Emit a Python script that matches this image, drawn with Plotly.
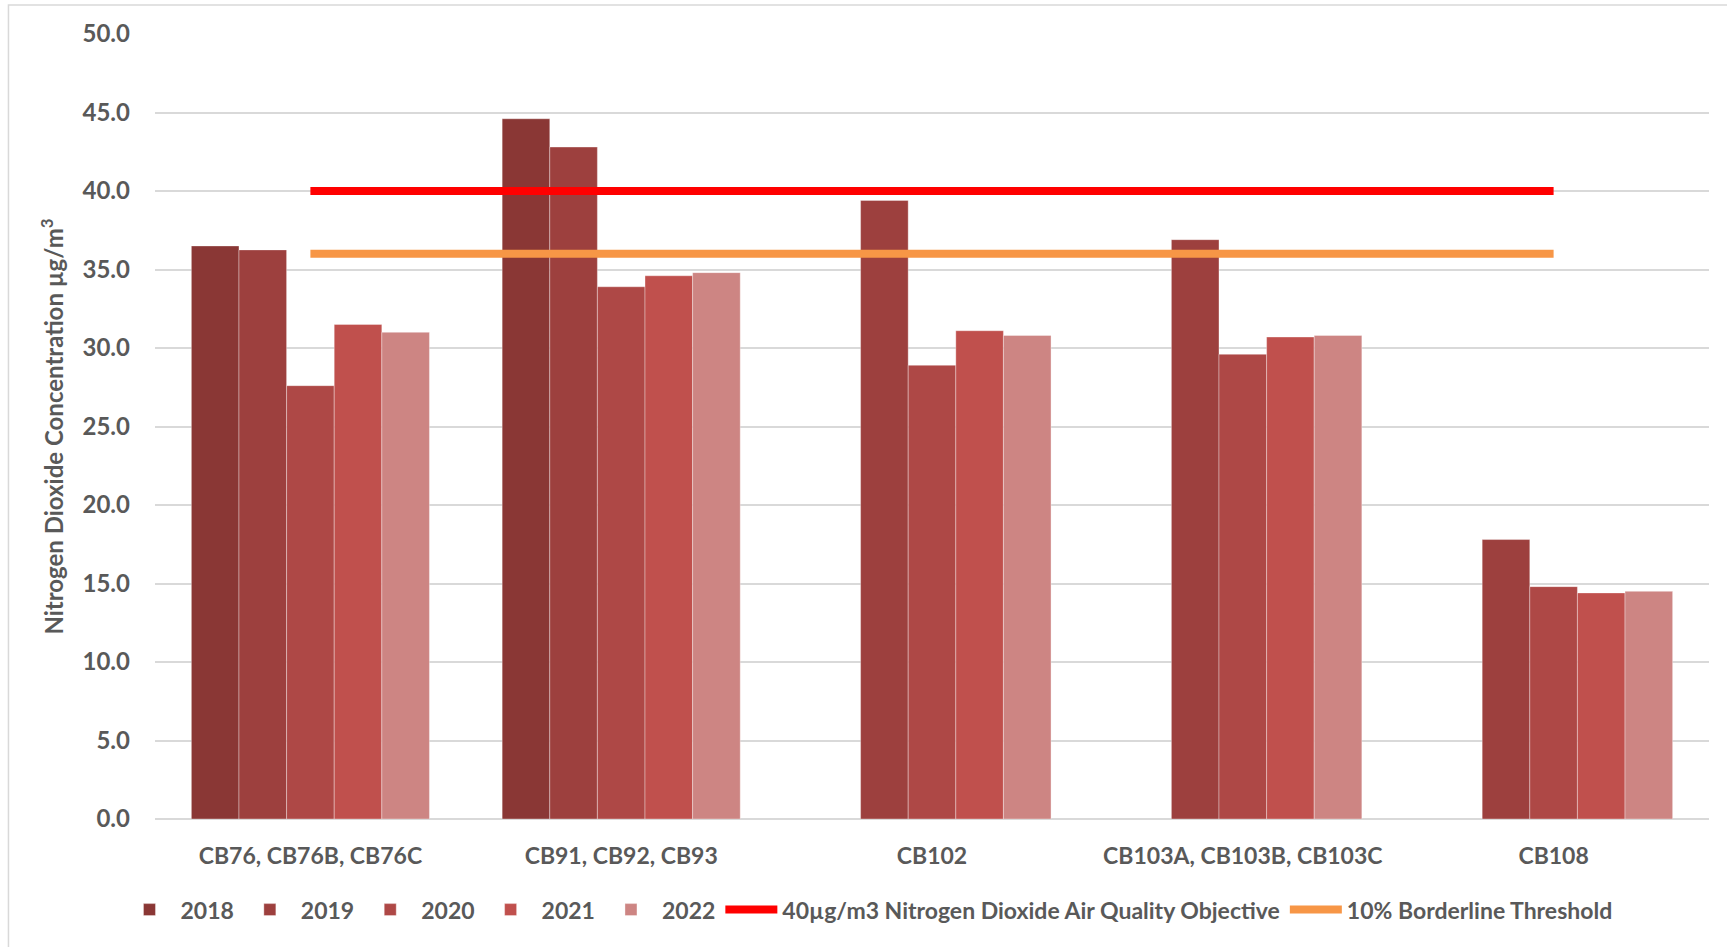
import plotly.graph_objects as go

categories = ["CB76, CB76B, CB76C", "CB91, CB92, CB93", "CB102", "CB103A, CB103B, CB103C", "CB108"]
years = ["2018", "2019", "2020", "2021", "2022"]
values_2018 = [36.5, 44.6, None, None, None]
values_2019 = [36.25, 42.8, 39.4, 36.9, 17.8]
values_2020 = [27.6, 33.9, 28.9, 29.6, 14.8]
values_2021 = [31.5, 34.6, 31.1, 30.7, 14.4]
values_2022 = [31.0, 34.8, 30.8, 30.8, 14.5]
objective = [40, 40, 40, 40, 40]
borderline = [36, 36, 36, 36, 36]
tick_vals = [0, 5, 10, 15, 20, 25, 30, 35, 40, 45, 50]

bar_colors = ["#8A3735", "#9D403E", "#AE4846", "#C0504D", "#CD8583"]
series = [values_2018, values_2019, values_2020, values_2021, values_2022]

FONT = "Lato"
GREY = "#595959"

fig = go.Figure()
for name, vals, col in zip(years, series, bar_colors):
    fig.add_trace(go.Bar(
        x=categories, y=vals, name=name,
        marker=dict(color=col, line=dict(color="rgba(255,255,255,0.35)", width=1)),
    ))

fig.add_trace(go.Scatter(
    x=categories, y=objective, mode="lines",
    name="40µg/m3 Nitrogen Dioxide Air Quality Objective",
    line=dict(color="#FF0000", width=8),
))
fig.add_trace(go.Scatter(
    x=categories, y=borderline, mode="lines",
    name="10% Borderline Threshold",
    line=dict(color="#F79646", width=8),
))

fig.update_layout(
    width=1727, height=947,
    margin=dict(l=155, r=18, t=34, b=128),
    paper_bgcolor="white", plot_bgcolor="white",
    barmode="group", bargap=0.234, bargroupgap=0,
    font=dict(family=FONT, color=GREY, size=23, weight="bold"),
    legend=dict(
        orientation="h", x=0.4588, xanchor="center", y=-0.1155, yanchor="middle",
        font=dict(family=FONT, color=GREY, size=23, weight="bold"),
        itemwidth=52, tracegroupgap=0, bgcolor="rgba(0,0,0,0)",
    ),
    showlegend=True,
    shapes=[dict(
        type="rect", xref="paper", yref="paper",
        x0=-0.0943, x1=1.03, y0=-0.2, y1=1.0369,
        line=dict(color="#D9D9D9", width=1.5), layer="below",
    )],
)

fig.update_xaxes(
    type="category", showgrid=False, zeroline=False, showline=False,
    ticks="", ticklabelstandoff=21,
    tickfont=dict(family=FONT, color=GREY, size=23, weight="bold"),
)
fig.update_yaxes(
    range=[0, 50], tickvals=tick_vals, tickformat=".1f",
    showgrid=True, gridcolor="#D9D9D9", gridwidth=1.5,
    zeroline=True, zerolinecolor="#D9D9D9", zerolinewidth=1.5,
    showline=False, ticks="", ticklabelstandoff=24,
    tickfont=dict(family=FONT, color=GREY, size=24, weight="bold"),
    title=dict(
        text="Nitrogen Dioxide Concentration µg/m<sup>3</sup>",
        font=dict(family=FONT, color=GREY, size=24, weight="bold"),
        standoff=12,
    ),
)

fig.write_html("out.html")
